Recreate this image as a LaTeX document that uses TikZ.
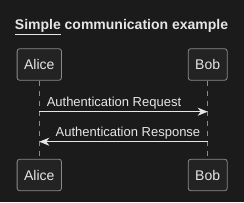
\documentclass[tikz,border=0pt]{standalone}
\usepackage{fontspec}
\setmainfont{Liberation Sans}
\usetikzlibrary{arrows.meta,positioning}
\definecolor{Ground}{HTML}{1B1B1B}
\definecolor{BoxFill}{HTML}{232323}
\definecolor{Frame}{HTML}{8A8A8A}
\definecolor{Ink}{HTML}{E6E6E6}
\begin{document}
\begin{tikzpicture}[x=1pt,y=-1pt,
    actor/.style={draw=Frame,fill=BoxFill,rounded corners=2.5pt,line width=0.8pt,
      minimum height=31.5pt,inner xsep=7pt,text=Ink,font=\fontsize{14}{16}\selectfont},
    life/.style={Frame,line width=0.8pt,dash pattern=on 5pt off 5pt},
    msg/.style={-{Stealth[length=10pt,width=8pt,inset=3pt]},Ink,line width=0.9pt},
    lbl/.style={text=Ink,font=\fontsize{13}{15}\selectfont,inner sep=0pt}
  ]
    \fill[Ground] (0,0) rectangle (244,202);
    \useasboundingbox (0,0) rectangle (244,202);
    \node[text=Ink,font=\bfseries\fontsize{14}{16}\selectfont,anchor=base] (title) at (121.5,29.5)
      {\underline{Simple} communication example};
    \node[actor] (alice) at (39.3,64.5) {Alice};
    \node[actor] (bob) at (207.7,64.5) {Bob};
    \node[actor] (alicebot) at (39.3,175) {Alice};
    \node[actor] (bobbot) at (207.7,175) {Bob};
    \draw[life] (alice) -- (alicebot);
    \draw[life] (bob) -- (bobbot);
    % messages
    \coordinate (reqA) at (alice |- 0,111.7);
    \coordinate (reqB) at (bob |- 0,111.7);
    \coordinate (resA) at (alice |- 0,141.7);
    \coordinate (resB) at (bob |- 0,141.7);
    \draw[msg] (reqA) -- node[lbl,pos=0,anchor=base west,xshift=7pt,yshift=5pt] (req) {Authentication Request} (reqB);
    \draw[msg] (resB) -- node[lbl,pos=0,anchor=base east,xshift=-7pt,yshift=5pt] (res) {Authentication Response} (resA);
  \end{tikzpicture}
\end{document}
